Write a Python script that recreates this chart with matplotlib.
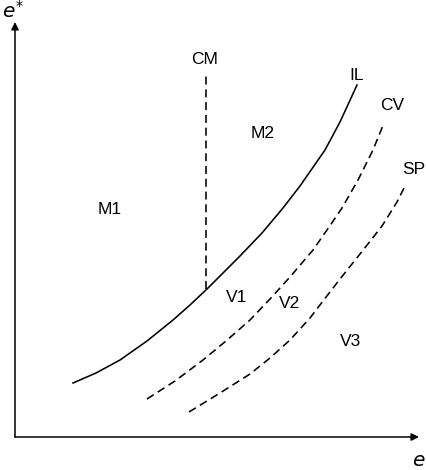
import matplotlib
matplotlib.use("Agg")
import matplotlib.pyplot as plt

H = 470  # picture height, used to flip readings taken from the top

il_x = [73, 96, 120, 147, 173, 190, 207, 240, 262, 283, 300, 325, 340, 357]
il_top = [383, 373, 360, 341, 320, 305, 289, 256, 233, 208, 186, 150, 122, 85]

cv_x = [147, 161, 175, 203, 226, 250, 270, 290, 313, 327, 342, 358, 373, 384]
cv_top = [399, 390, 381, 360, 341, 320, 299, 277, 250, 230, 208, 180, 150, 123]

sp_x = [189, 220, 250, 270, 290, 310, 323, 340, 360, 382, 397, 406]
sp_top = [412, 393, 374, 358, 340, 318, 301, 279, 254, 226, 202, 184]

cm_x = [206, 206]
cm_top = [289, 75]

labels = ["CM", "IL", "CV", "SP", "M1", "M2", "V1", "V2", "V3"]
label_x = [205, 357, 392, 414, 110, 263, 237, 290, 351]
label_top = [60, 76, 105, 169, 210, 133, 297, 304, 342]

fig = plt.figure(figsize=(4.26, 4.70), dpi=100)
ax = fig.add_axes([0, 0, 1, 1])
ax.set_xlim(0, 426)
ax.set_ylim(0, H)
ax.axis("off")

def up(v):
    return [H - t for t in v]

lw = 1.15
dash = (0, (5, 3))
ax.plot(il_x, up(il_top), color="black", lw=lw, solid_joinstyle="round")
ax.plot(cv_x, up(cv_top), color="black", lw=lw, ls=dash)
ax.plot(sp_x, up(sp_top), color="black", lw=lw, ls=dash)
ax.plot(cm_x, up(cm_top), color="black", lw=lw, ls=dash)

# Axes arrows
ax.annotate("", xy=(15, H - 22), xytext=(15, H - 437),
            arrowprops=dict(arrowstyle="-|>", color="black", lw=1.1,
                            mutation_scale=11, shrinkA=0, shrinkB=0))
ax.annotate("", xy=(419, H - 437), xytext=(15, H - 437),
            arrowprops=dict(arrowstyle="-|>", color="black", lw=1.1,
                            mutation_scale=11, shrinkA=0, shrinkB=0))

font = "Liberation Sans"
ax.text(13, H - 11, r"$e^{*}$", fontsize=14.5, ha="center", va="center",
        math_fontfamily="dejavusans")
ax.text(419, H - 460, r"$e$", fontsize=14.5, ha="center", va="center",
        math_fontfamily="dejavusans")

for t, x, y in zip(labels, label_x, label_top):
    ax.text(x, H - y, t, fontsize=12.5, family=font, ha="center", va="center")

fig.savefig("out.png", dpi=100)
